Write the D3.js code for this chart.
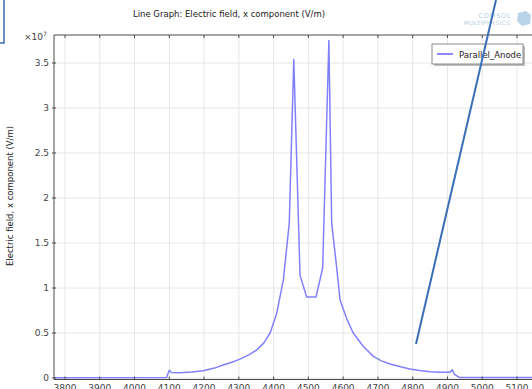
<!DOCTYPE html>
<html><head><meta charset="utf-8">
<script src="https://cdn.jsdelivr.net/npm/d3@7"></script>
<style>html,body{margin:0;padding:0;background:#fff;overflow:hidden}</style>
</head><body>
<svg id="c" width="532" height="389"></svg>
<script>
const xValues = [3768, 4092, 4100, 4106, 4131, 4165, 4198, 4230, 4255, 4280, 4303, 4330, 4351, 4372, 4390, 4409, 4428, 4445, 4458, 4476, 4495, 4522, 4541, 4559, 4567, 4581, 4591, 4610, 4629, 4658, 4687, 4710, 4735, 4765, 4792, 4820, 4850, 4880, 4907, 4914, 4920, 4935, 5200];
const yValues = [0.003, 0.005, 0.085, 0.06, 0.059, 0.068, 0.081, 0.11, 0.144, 0.175, 0.21, 0.26, 0.31, 0.39, 0.50, 0.72, 1.09, 1.72, 3.54, 1.14, 0.90, 0.90, 1.22, 3.75, 1.72, 1.24, 0.87, 0.66, 0.50, 0.35, 0.24, 0.19, 0.156, 0.125, 0.10, 0.083, 0.07, 0.065, 0.063, 0.09, 0.04, 0.005, 0.005].map(v => v * 1e7);
const xTicks = [3800, 3900, 4000, 4100, 4200, 4300, 4400, 4500, 4600, 4700, 4800, 4900, 5000, 5100];
const yTicks = [0, 0.5e7, 1e7, 1.5e7, 2e7, 2.5e7, 3e7, 3.5e7];
const yTickLabels = ["0", "0.5", "1", "1.5", "2", "2.5", "3", "3.5"];
const seriesName = "Parallel_Anode";
const titleText = "Line Graph: Electric field, x component (V/m)";
const yLabelText = "Electric field, x component (V/m)";

const svg = d3.select("#c");
const font = "DejaVu Sans, sans-serif";
const x = d3.scaleLinear().domain([3800, 5100]).range([65, 517]);
const y = d3.scaleLinear().domain([0, 3.5e7]).range([378, 63]);
const L = 54, T = 35, B = 379.5, R = 560;

svg.append("defs").append("clipPath").attr("id","pc")
  .append("rect").attr("x",L).attr("y",T).attr("width",R-L).attr("height",B-T);

// grid
const g = svg.append("g");
g.selectAll(".gx").data(xTicks).join("line")
  .attr("x1",d=>x(d)).attr("x2",d=>x(d)).attr("y1",T).attr("y2",B)
  .attr("stroke","#e6e6e6").attr("stroke-width",1);
g.selectAll(".gy").data(yTicks).join("line")
  .attr("x1",L).attr("x2",R).attr("y1",d=>y(d)).attr("y2",d=>y(d))
  .attr("stroke","#e6e6e6").attr("stroke-width",1);

// line
const data = xValues.map((v,i)=>[v,yValues[i]]);
svg.append("path").datum(data).attr("clip-path","url(#pc)")
  .attr("d", d3.line().x(d=>x(d[0])).y(d=>y(d[1])))
  .attr("fill","none").attr("stroke","#8080ff").attr("stroke-width",1.5)
  .attr("stroke-linejoin","round");

// frame
const ax = "#4a4a4a";
svg.append("line").attr("x1",L).attr("x2",L).attr("y1",T).attr("y2",B).attr("stroke",ax);
svg.append("line").attr("x1",L).attr("x2",R).attr("y1",T).attr("y2",T).attr("stroke",ax);
svg.append("line").attr("x1",L).attr("x2",R).attr("y1",B).attr("y2",B).attr("stroke",ax);
// ticks
svg.selectAll(".tt").data(xTicks).join("line")
  .attr("x1",d=>x(d)).attr("x2",d=>x(d)).attr("y1",T).attr("y2",T+3).attr("stroke",ax);
svg.selectAll(".tb").data(xTicks).join("line")
  .attr("x1",d=>x(d)).attr("x2",d=>x(d)).attr("y1",B).attr("y2",B-3).attr("stroke",ax);
svg.selectAll(".tl").data(yTicks).join("line")
  .attr("x1",L-2).attr("x2",L+2).attr("y1",d=>y(d)).attr("y2",d=>y(d)).attr("stroke",ax);

// tick labels
svg.selectAll(".xl").data(xTicks).join("text")
  .attr("x",d=>x(d)).attr("y",B+11).attr("text-anchor","middle")
  .attr("font-family",font).attr("font-size",9).attr("fill","#444").text(d=>d);
svg.selectAll(".yl").data(yTicks).join("text")
  .attr("x",L-5).attr("y",d=>y(d)+3).attr("text-anchor","end")
  .attr("font-family",font).attr("font-size",9).attr("fill","#444")
  .text((d,i)=>yTickLabels[i]);

// exponent
const ex = svg.append("text").attr("x",24).attr("y",40).attr("font-family",font)
  .attr("font-size",9).attr("fill","#444");
ex.append("tspan").text("×10");
ex.append("tspan").attr("dy",-4).attr("font-size",6).text("7");

// title
svg.append("text").attr("x",229).attr("y",17).attr("text-anchor","middle")
  .attr("font-family",font).attr("font-size",8.5).attr("fill","#222").text(titleText);
// y label
svg.append("text").attr("transform","translate(13,196) rotate(-90)").attr("text-anchor","middle")
  .attr("font-family",font).attr("font-size",8.5).attr("fill","#222").text(yLabelText);

// COMSOL logo (faded)
svg.append("text").attr("x",495).attr("y",18).attr("text-anchor","middle")
  .attr("font-family",font).attr("font-size",6.5).attr("fill","#b5cfe3").attr("letter-spacing",0.8).text("COMSOL");
svg.append("text").attr("x",487).attr("y",25).attr("text-anchor","middle")
  .attr("font-family",font).attr("font-size",6).attr("fill","#b5cfe3").attr("letter-spacing",0.3).text("MULTIPHYSICS");
svg.append("path").attr("d","M518,13 L526,11 L531,15 L530,24 L522,26 L517,21 Z")
  .attr("fill","#a9c8e0").attr("opacity",0.8);

// legend
svg.append("rect").attr("x",434).attr("y",46).attr("width",91).attr("height",20)
  .attr("fill","#bbb").attr("rx",1);
svg.append("rect").attr("x",432).attr("y",44).attr("width",91).attr("height",20)
  .attr("fill","#fff").attr("stroke","#8a8a8a").attr("stroke-width",1);
svg.append("line").attr("x1",437).attr("x2",453).attr("y1",54).attr("y2",54)
  .attr("stroke","#6464ff").attr("stroke-width",1.5);
svg.append("text").attr("x",459).attr("y",57.5).attr("font-family",font).attr("font-size",8.5)
  .attr("fill","#222").text(seriesName);

// annotation overlay
svg.append("line").attr("x1",416).attr("y1",344).attr("x2",496).attr("y2",0)
  .attr("stroke","#3a6fb8").attr("stroke-width",2);
svg.append("path").attr("d","M0,43 L4,43 L4,0").attr("fill","none")
  .attr("stroke","#3a6fb8").attr("stroke-width",1.5);
</script>
</body></html>
